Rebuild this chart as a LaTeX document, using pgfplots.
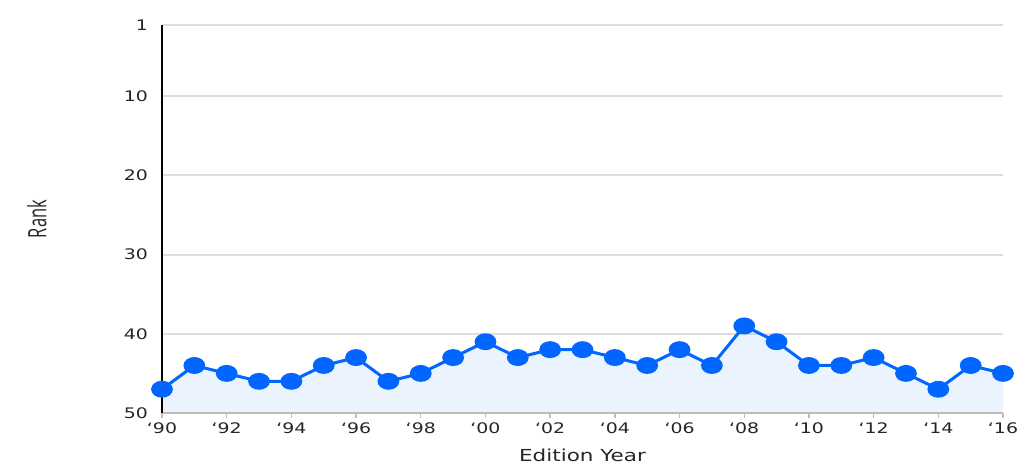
\documentclass[border=0pt]{standalone}
\usepackage{fontspec}
\setmainfont{DejaVu Sans}[FakeStretch=1.3]
\newfontfamily\rankfont{Open Sans}[FakeStretch=0.65]
\usepackage{pgfplots}
\usepackage{pgfplotstable}
\pgfplotsset{compat=1.18}
\usepgfplotslibrary{fillbetween}

\definecolor{lineblue}{HTML}{0066FF}
\definecolor{gridgray}{HTML}{DEDEDE}
\definecolor{axisgray}{HTML}{BDBDBD}

% edition year, rank
\pgfplotstableread{
year rank
1990 47
1991 44
1992 45
1993 46
1994 46
1995 44
1996 43
1997 46
1998 45
1999 43
2000 41
2001 43
2002 42
2003 42
2004 43
2005 44
2006 42
2007 44
2008 39
2009 41
2010 44
2011 44
2012 43
2013 45
2014 47
2015 44
2016 45
}\ranks

\begin{document}
\begin{tikzpicture}
\begin{axis}[
    scale only axis,
    width=630.75pt,
    height=291pt,
    clip=false,
    y dir=reverse,
    xmin=1990, xmax=2016,
    ymin=1, ymax=50,
    xtick={1990,1992,...,2016},
    xticklabels={‘90,‘92,‘94,‘96,‘98,‘00,‘02,‘04,‘06,‘08,‘10,‘12,‘14,‘16},
    ytick={1,10,20,30,40,50},
    ymajorgrids=true,
    grid style={draw=gridgray, line width=1.5pt},
    axis line style={draw=none},
    tick align=outside,
    major tick length=4pt,
    xtick pos=left,
    xtick style={draw=axisgray, line width=1pt},
    ytick style={draw=none},
    ticklabel style={font=\fontsize{10.9}{12}\selectfont, text=black!85},
    yticklabel style={xshift=-3pt},
    /pgf/number format/assume math mode=true,
]
\coordinate (sw) at (axis description cs:0,0);
\coordinate (ne) at (axis description cs:1,1);
\draw[axisgray, line width=1.5pt] (axis description cs:0,0) -- (axis description cs:1,0);
\draw[black, line width=2pt] (axis description cs:0,0) -- (axis description cs:0,1);

\addplot[draw=none, name path=rk, forget plot] table[x=year, y=rank] {\ranks};
\path[name path=base] (axis cs:1990,50) -- (axis cs:2016,50);
\addplot[fill=lineblue, fill opacity=0.08, draw=none] fill between[of=rk and base];

\addplot[lineblue, line width=2.25pt, mark=*, mark size=5.2pt,
    mark options={xscale=1.35, fill=lineblue, draw=none}]
    table[x=year, y=rank] {\ranks};

\node[font=\fontsize{12.4}{14}\selectfont, text=black!85]
    at ([yshift=-32pt]axis description cs:0.5,0) {Edition Year};
\node[rotate=90, font=\rankfont\fontsize{19}{21}\selectfont, text=black!85]
    at ([xshift=-93.75pt]axis description cs:0,0.5) {Rank};
\end{axis}
\pgfresetboundingbox
\path[use as bounding box] ([shift={(-121.5pt,-42pt)}]sw) rectangle ([shift={(17.25pt,18.75pt)}]ne);
\end{tikzpicture}
\end{document}
